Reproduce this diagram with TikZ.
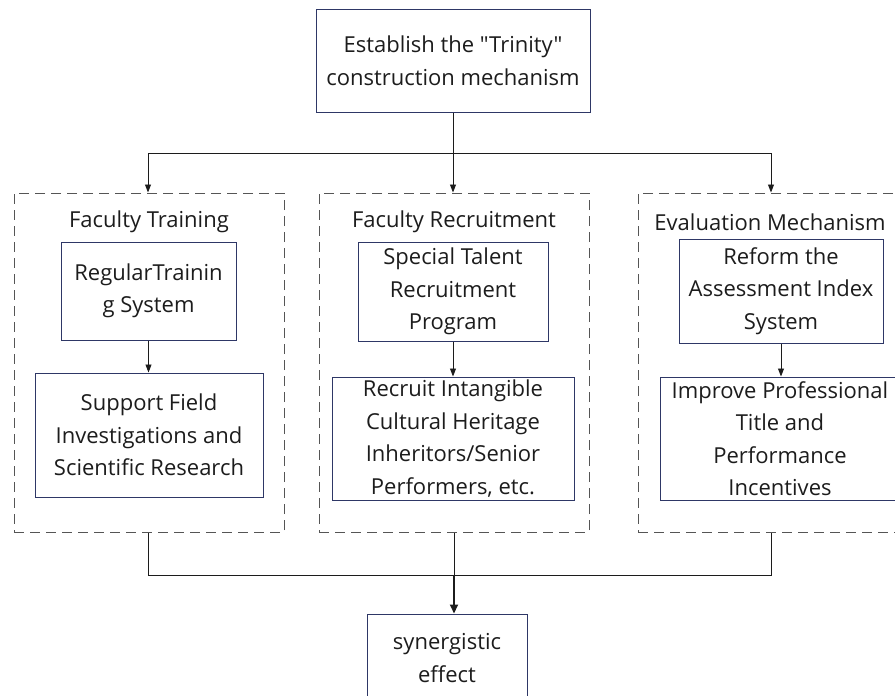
\documentclass[tikz,border=0pt]{standalone}
\usepackage{fontspec}
\setmainfont{Open Sans}[Ligatures=TeXOff]
\usetikzlibrary{arrows.meta}
\definecolor{boxline}{HTML}{2E3766}
\definecolor{txt}{HTML}{1C1C1C}
\definecolor{dash}{HTML}{555555}
\tikzset{
  every node/.style={text=txt, font=\fontsize{22}{32.5}\selectfont, inner sep=0pt},
  solidbox/.style={draw=boxline, line width=1pt, align=center},
  group/.style={draw=dash, line width=1pt, dash pattern=on 10pt off 6pt},
  title/.style={align=center},
  conn/.style={draw=txt, line width=0.9pt},
  arr/.style={conn, -{Triangle[length=8pt,width=6pt]}},
  thickarr/.style={draw=txt, line width=2pt, -{Triangle[length=9pt,width=8pt]}}
}
\begin{document}
\begin{tikzpicture}[x=1pt,y=-1pt]
\useasboundingbox (0,0) rectangle (895,696);
\begin{scope}
\clip (0,0) rectangle (895,696);
% top
\node[solidbox, minimum width=274pt, minimum height=103pt] (top) at (453,60.5) {Establish the "Trinity"\\construction mechanism};
% groups
\node[group, minimum width=270pt, minimum height=339pt] (g1) at (149,362.5) {};
\node[group, minimum width=270pt, minimum height=339pt] (g2) at (454,362.5) {};
\node[group, minimum width=270pt, minimum height=339pt] (g3) at (773,362.5) {};
\node[title] (t1) at (149,222) {Faculty Training};
\node[title] (t2) at (454,222) {Faculty Recruitment};
\node[title] (t3) at (770,222) {Evaluation Mechanism};
% left
\node[solidbox, minimum width=175pt, minimum height=98pt] (a1) at (148.5,291) {RegularTrainin\\g System};
\node[solidbox, minimum width=228pt, minimum height=124pt] (a2) at (149,435) {Support Field\\Investigations and\\Scientific Research};
% middle
\node[solidbox, minimum width=190pt, minimum height=99pt] (b1) at (453,291.5) {Special Talent\\Recruitment\\Program};
\node[solidbox, minimum width=242pt, minimum height=123pt] (b2) at (453,438.5) {Recruit Intangible\\Cultural Heritage\\Inheritors/Senior\\Performers, etc.};
% right
\node[solidbox, minimum width=204pt, minimum height=104pt] (c1) at (781,291) {Reform the\\Assessment Index\\System};
\node[solidbox, minimum width=240pt, minimum height=123pt] (c2) at (780,438.5) {Improve Professional\\Title and\\Performance\\Incentives};
% bottom
\node[solidbox, minimum width=160pt, minimum height=88pt] (bot) at (447,658) {synergistic\\effect};
% connectors top
\coordinate (hs) at (453,153);
\coordinate (hl) at (148,153);
\coordinate (hr) at (771,153);
\draw[conn] (top.south) -- (hs);
\draw[conn] (hl) -- (hr);
\draw[arr] (hl) -- (hl |- g1.north);
\draw[arr] (hs) -- (hs |- g2.north);
\draw[arr] (hr) -- (hr |- g3.north);
% inner arrows
\draw[arr] (a1.south) -- (a1.south |- a2.north);
\draw[arr] (b1.south) -- (b1.south |- b2.north);
\draw[arr] (c1.south) -- (c1.south |- c2.north);
% bottom connectors
\coordinate (bl) at (148,575);
\coordinate (bm) at (454,575);
\coordinate (br) at (771,575);
\draw[conn] (bl |- g1.south) -- (bl) -- (br) -- (br |- g3.south);
\draw[conn] (bm |- g2.south) -- (bm);
\draw[thickarr] (bm) -- (bm |- bot.north);
\end{scope}
\end{tikzpicture}
\end{document}
